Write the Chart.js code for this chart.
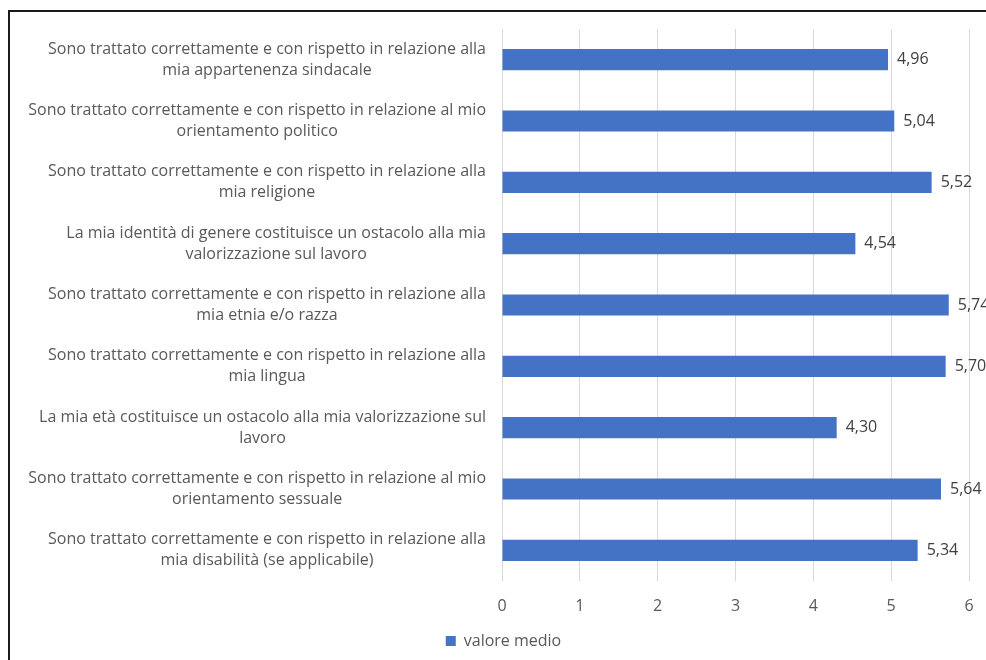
<!DOCTYPE html>
<html>
<head>
<meta charset="utf-8">
<script src="https://cdn.jsdelivr.net/npm/chart.js@4"></script>
<style>
  html, body { margin: 0; padding: 0; background: #fff; overflow: hidden; }
  #cornice { position: absolute; left: 8px; top: 10px; width: 1200px; height: 900px; border: 2px solid #1a1a1a; }
  #contenitore { position: absolute; left: 0; top: 0; width: 986px; height: 660px; }
</style>
</head>
<body>
<div id="cornice"></div>
<div id="contenitore"><canvas id="grafico"></canvas></div>
<script>
// Domande (una riga per elemento dell'array interno)
const categorie = [
  ['Sono trattato correttamente e con rispetto in relazione alla', 'mia appartenenza sindacale'],
  ['Sono trattato correttamente e con rispetto in relazione al mio', 'orientamento politico'],
  ['Sono trattato correttamente e con rispetto in relazione alla', 'mia religione'],
  ['La mia identità di genere costituisce un ostacolo alla mia', 'valorizzazione sul lavoro'],
  ['Sono trattato correttamente e con rispetto in relazione alla', 'mia etnia e/o razza'],
  ['Sono trattato correttamente e con rispetto in relazione alla', 'mia lingua'],
  ['La mia età costituisce un ostacolo alla mia valorizzazione sul', 'lavoro'],
  ['Sono trattato correttamente e con rispetto in relazione al mio', 'orientamento sessuale'],
  ['Sono trattato correttamente e con rispetto in relazione alla', 'mia disabilità (se applicabile)']
];
const valoreMedio = [4.96, 5.04, 5.52, 4.54, 5.74, 5.70, 4.30, 5.64, 5.34];
const asseMin = 0;
const asseMax = 6;
const nomeSerie = 'valore medio';

const FONT = '"Open Sans", sans-serif';
const GRIGIO = '#595959';

const formatta = v => v.toFixed(2).replace('.', ',');

// Etichette dell'asse verticale: righe centrate tra loro, blocco allineato a destra
const etichetteAsse = {
  id: 'etichetteAsse',
  afterDraw(chart) {
    const { ctx } = chart;
    const y = chart.scales.y;
    const destra = y.right - 16;
    ctx.save();
    ctx.font = '16px ' + FONT;
    ctx.fillStyle = GRIGIO;
    ctx.textAlign = 'center';
    ctx.textBaseline = 'middle';
    categorie.forEach((righe, i) => {
      const yc = y.getPixelForTick(i);
      const larghezza = Math.max(...righe.map(r => ctx.measureText(r).width));
      const cx = destra - larghezza / 2;
      righe.forEach((r, k) => ctx.fillText(r, cx, yc + (k - (righe.length - 1) / 2) * 21));
    });
    ctx.restore();
  }
};

// Valori scritti a fine barra
const etichetteValori = {
  id: 'etichetteValori',
  afterDatasetsDraw(chart) {
    const { ctx } = chart;
    const meta = chart.getDatasetMeta(0);
    ctx.save();
    ctx.font = '16px ' + FONT;
    ctx.fillStyle = '#404040';
    ctx.textAlign = 'left';
    ctx.textBaseline = 'middle';
    meta.data.forEach((barra, i) => ctx.fillText(formatta(valoreMedio[i]), barra.x + 9, barra.y));
    ctx.restore();
  }
};

new Chart(document.getElementById('grafico'), {
  type: 'bar',
  data: {
    labels: categorie.map(c => c.join(' ')),
    datasets: [{
      label: nomeSerie,
      data: valoreMedio,
      backgroundColor: '#4472C4',
      borderWidth: 0,
      categoryPercentage: 1,
      barPercentage: 0.345
    }]
  },
  options: {
    indexAxis: 'y',
    responsive: true,
    maintainAspectRatio: false,
    devicePixelRatio: 1,
    animation: false,
    layout: { padding: { left: 38, right: 17, top: 29, bottom: 1 } },
    scales: {
      x: {
        min: asseMin,
        max: asseMax,
        ticks: { stepSize: 1, padding: 2, color: GRIGIO, font: { family: FONT, size: 16 } },
        grid: { color: '#d9d9d9', lineWidth: 1, drawTicks: true, tickLength: 14, tickColor: 'transparent' },
        border: { display: false },
        afterFit: s => { s.height = 42; }
      },
      y: {
        ticks: { display: false },
        grid: { display: false },
        border: { display: false },
        afterFit: s => { s.width = 464; }
      }
    },
    plugins: {
      legend: {
        position: 'bottom',
        labels: {
          boxWidth: 10,
          boxHeight: 10,
          padding: 10,
          color: GRIGIO,
          font: { family: FONT, size: 16 }
        }
      },
      tooltip: { enabled: false }
    }
  },
  plugins: [etichetteAsse, etichetteValori]
});
</script>
</body>
</html>
